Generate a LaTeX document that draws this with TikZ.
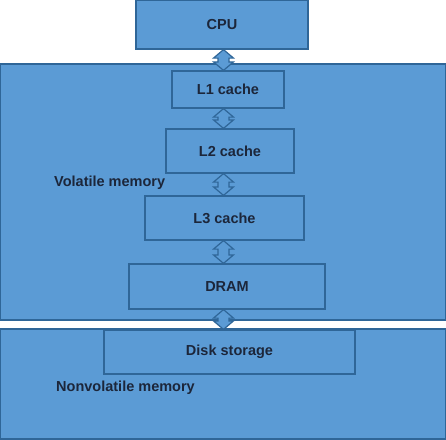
\documentclass[tikz,border=0pt]{standalone}
\usepackage{fontspec}
\setmainfont{Liberation Sans}
\usepackage{tikz}
\usetikzlibrary{calc}

\definecolor{boxblue}{RGB}{91,155,213}
\definecolor{edgeblue}{RGB}{47,102,152}
\definecolor{inkblue}{RGB}{28,38,58}

\tikzset{
  membox/.style={draw=edgeblue, fill=boxblue, line width=1.2pt},
  unitbox/.style={membox, inner sep=0pt, font=\fontsize{14.5}{17}\selectfont\bfseries, text=inkblue},
  dblarrow/.style={draw=edgeblue, fill=boxblue, line width=1.2pt, line join=miter,
    to path={let \p1=(\tikztostart), \p2=(\tikztotarget) in
      (\x1,\y1) -- (\x1+10pt,\y1-8.5pt) -- (\x1+5.5pt,\y1-8.5pt)
      -- (\x1+5.5pt,\y2+8.5pt) -- (\x1+10pt,\y2+8.5pt) -- (\x1,\y2)
      -- (\x1-10pt,\y2+8.5pt) -- (\x1-5.5pt,\y2+8.5pt)
      -- (\x1-5.5pt,\y1-8.5pt) -- (\x1-10pt,\y1-8.5pt) -- cycle}},
  memlabel/.style={font=\fontsize{14.5}{17}\selectfont\bfseries, text=inkblue, anchor=west, inner sep=0pt}
}

\begin{document}
\begin{tikzpicture}[x=1pt,y=-1pt]
  \useasboundingbox (0,0) rectangle (446,439);
  % the two memory areas
  \draw [membox] (0,64) rectangle (446,320);
  \draw [membox] (0,329) rectangle (446,439);
  \node [memlabel] (vol) at (54,183) {Volatile memory};
  \node [memlabel] (nonvol) at (56,388) {Nonvolatile memory};

  % the hierarchy
  \node [unitbox, minimum width=172pt, minimum height=49pt] (cpu) at (222,24.5) {CPU};
  \node [unitbox, minimum width=112pt, minimum height=37pt] (l1) at (228,89.5) {L1 cache};
  \node [unitbox, minimum width=128pt, minimum height=44pt] (l2) at (230,151) {L2 cache};
  \node [unitbox, minimum width=159pt, minimum height=44pt] (l3) at (224.5,218) {L3 cache};
  \node [unitbox, minimum width=196pt, minimum height=45pt] (dram) at (227,286.5) {DRAM};
  \node [unitbox, minimum width=251pt, minimum height=44pt] (disk) at (229.5,352) {Disk storage};

  % arrows between the levels
  \coordinate (axis) at (223.5,0);
  \draw [dblarrow] (cpu.south -| axis) to (l1.north -| axis);
  \draw [dblarrow] (l1.south -| axis) to (l2.north -| axis);
  \draw [dblarrow] (l2.south -| axis) to (l3.north -| axis);
  \draw [dblarrow] (l3.south -| axis) to (dram.north -| axis);
  \draw [dblarrow] (dram.south -| axis) to (disk.north -| axis);
\end{tikzpicture}
\end{document}
